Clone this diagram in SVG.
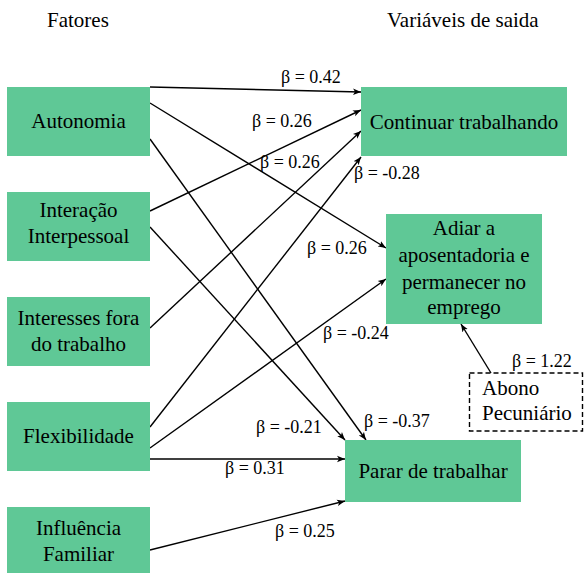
<svg xmlns="http://www.w3.org/2000/svg" width="584" height="573" viewBox="0 0 584 573">
<style>
.box{fill:#5fc896;}
.t{font-size:21px;fill:#000;text-anchor:middle;}
.tl{font-size:21px;fill:#000;}
.b{font-size:18px;fill:#000;}
.c{stroke:#000;stroke-width:1.4;fill:none;marker-end:url(#ah);}
</style>
<defs>
<marker id="ah" markerUnits="userSpaceOnUse" markerWidth="9" markerHeight="8" refX="8" refY="4" orient="auto">
<path d="M0,0.8 L8,4 L0,7.2 L2,4 Z" fill="#000"/>
</marker>
</defs>
<rect width="584" height="573" fill="#fff"/>
<g font-family="Liberation Serif, Times New Roman, serif">
<text class="tl" x="47" y="27">Fatores</text>
<text class="tl" x="387" y="27">Variáveis de saida</text>

<g id="connectors">
<line class="c" x1="150" y1="87" x2="361" y2="92"/>
<line class="c" x1="150" y1="211" x2="361" y2="110"/>
<line class="c" x1="150" y1="328" x2="361" y2="131"/>
<line class="c" x1="150" y1="427" x2="361" y2="157"/>
<line class="c" x1="150" y1="103" x2="386" y2="248"/>
<line class="c" x1="150" y1="448" x2="386" y2="279"/>
<line class="c" x1="150" y1="139" x2="366" y2="440"/>
<line class="c" x1="150" y1="227" x2="345" y2="440"/>
<line class="c" x1="150" y1="459" x2="345" y2="459"/>
<line class="c" x1="150" y1="550" x2="345" y2="501"/>
<line class="c" x1="491" y1="373" x2="461" y2="324"/>
<text class="b" x="281" y="83">β = 0.42</text>
<text class="b" x="252" y="127">β = 0.26</text>
<text class="b" x="260" y="168">β = 0.26</text>
<text class="b" x="354" y="179">β = -0.28</text>
<text class="b" x="307" y="254">β = 0.26</text>
<text class="b" x="323" y="339">β = -0.24</text>
<text class="b" x="512" y="367">β = 1.22</text>
<text class="b" x="364" y="427">β = -0.37</text>
<text class="b" x="256" y="433">β = -0.21</text>
<text class="b" x="225" y="474">β = 0.31</text>
<text class="b" x="275" y="537">β = 0.25</text>
</g>

<g id="autonomia">
<rect class="box" x="7" y="87" width="143" height="69"/>
<text class="t" x="78.5" y="128">Autonomia</text>
</g>
<g id="interacao">
<rect class="box" x="7" y="192" width="143" height="69"/>
<text class="t" x="78.5" y="217">Interação</text>
<text class="t" x="78.5" y="243">Interpessoal</text>
</g>
<g id="interesses">
<rect class="box" x="7" y="297" width="143" height="69"/>
<text class="t" x="78.5" y="325">Interesses fora</text>
<text class="t" x="78.5" y="351">do trabalho</text>
</g>
<g id="flexibilidade">
<rect class="box" x="7" y="402" width="143" height="69"/>
<text class="t" x="78.5" y="443">Flexibilidade</text>
</g>
<g id="influencia">
<rect class="box" x="7" y="507" width="143" height="69"/>
<text class="t" x="78.5" y="535">Influência</text>
<text class="t" x="78.5" y="561">Familiar</text>
</g>
<g id="continuar">
<rect class="box" x="361" y="87" width="206" height="69"/>
<text class="t" x="464" y="129">Continuar trabalhando</text>
</g>
<g id="adiar">
<rect class="box" x="386" y="214" width="156" height="110"/>
<text class="t" x="464" y="235">Adiar a</text>
<text class="t" x="464" y="262">aposentadoria e</text>
<text class="t" x="464" y="289">permanecer no</text>
<text class="t" x="464" y="314">emprego</text>
</g>
<g id="parar">
<rect class="box" x="345" y="440" width="176" height="62"/>
<text class="t" x="433" y="478">Parar de trabalhar</text>
</g>
<g id="abono">
<rect x="469.5" y="373" width="113" height="58" fill="#fff" stroke="#000" stroke-width="1.4" stroke-dasharray="5,3"/>
<text class="tl" x="482" y="395">Abono</text>
<text class="tl" x="482" y="420">Pecuniário</text>
</g>
</g>
</svg>
